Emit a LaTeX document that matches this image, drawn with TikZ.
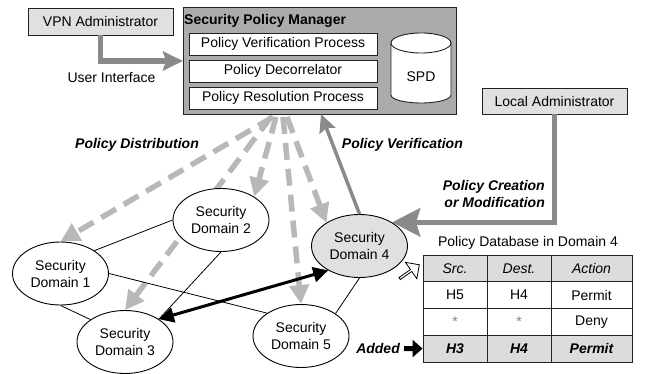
\documentclass[tikz,border=0pt]{standalone}
\usepackage{fontspec}
\setmainfont{Liberation Sans}
\usetikzlibrary{arrows.meta,shapes.geometric,shapes.arrows,backgrounds}
\definecolor{boxgray}{HTML}{E0E0E0}
\definecolor{spmgray}{HTML}{ABABAB}
\definecolor{arrgray}{HTML}{8A8A8A}
\definecolor{distgray}{HTML}{B8B8B8}
\definecolor{cellgray}{HTML}{DCDCDC}
\definecolor{edgeblack}{HTML}{222222}
\begin{document}
\begin{tikzpicture}[x=1pt,y=-1pt,
  font=\fontsize{14}{17}\selectfont,
  adminbox/.style={draw=edgeblack,fill=boxgray,line width=0.9pt,inner sep=0pt,minimum width=145pt,minimum height=27pt},
  procbox/.style={draw=edgeblack,fill=white,line width=0.8pt,inner sep=0pt,minimum width=188pt,minimum height=22pt},
  sdomain/.style={ellipse,draw=black,line width=0.9pt,fill=white,inner sep=0pt,minimum width=96pt,minimum height=63pt,align=center},
  linkline/.style={draw=black,line width=0.8pt},
  distarrow/.style={draw=distgray,line width=5.5pt,dash pattern=on 17pt off 9pt,-{Triangle[length=19pt,width=19pt]}},
  uiarrow/.style={draw=arrgray,line width=5.5pt,-{Stealth[length=20pt,width=19pt,inset=3pt]}},
  bigarrow/.style={draw=arrgray,line width=5.5pt,-{Stealth[length=28pt,width=28pt,inset=4pt]}},
  verarrow/.style={draw=arrgray,line width=3.5pt,-{Stealth[length=18pt,width=17pt,inset=3pt]}},
  lbl/.style={font=\fontsize{14}{17}\selectfont\bfseries\itshape,inner sep=0pt},
  cell/.style={draw=edgeblack,line width=0.9pt,inner sep=0pt,minimum height=26.75pt},
  hcell/.style={cell,fill=cellgray,font=\fontsize{14}{17}\selectfont\itshape},
  acell/.style={cell,fill=cellgray,font=\fontsize{14}{17}\selectfont\bfseries\itshape},
  wcell/.style={cell,fill=white}]
\useasboundingbox (0,0) rectangle (645,374);

% VPN administrator
\node[adminbox] (vpn) at (100.5,21.5) {VPN Administrator};

% Security Policy Manager
\node[draw=edgeblack,fill=spmgray,line width=1pt,minimum width=273pt,minimum height=107pt,inner sep=0pt,anchor=north west] (spm) at (183,7) {};
\node[font=\fontsize{14}{17}\selectfont\bfseries,anchor=west,inner sep=0pt] (spmtitle) at (184,21) {Security Policy Manager};
\node[procbox] (pvp) at (283,44) {Policy Verification Process};
\node[procbox] (pdc) at (283,71) {Policy Decorrelator};
\node[procbox] (prp) at (283,98) {Policy Resolution Process};
% SPD cylinder
\draw[draw=edgeblack,fill=white,line width=0.9pt] (391,43) -- (391,95) arc[start angle=180,end angle=360,x radius=30pt,y radius=8pt] -- (451,43) arc[start angle=0,end angle=180,x radius=30pt,y radius=10pt] -- cycle;
\draw[draw=edgeblack,line width=0.9pt] (391,43) arc[start angle=180,end angle=360,x radius=30pt,y radius=10pt];
\node (spd) at (421,77) {SPD};

% User interface arrow
\draw[uiarrow] (vpn.south) |- (spm.west);
\node (ui) at (111.5,78) {User Interface};

% Local administrator
\node[adminbox,minimum height=26pt] (ladmin) at (554.5,101) {Local Administrator};

% Domains
\node[sdomain] (sd1) at (60.5,273.5) {Security\\Domain 1};
\node[sdomain] (sd2) at (221,220) {Security\\Domain 2};
\node[sdomain] (sd3) at (125,342) {Security\\Domain 3};
\node[sdomain,fill=boxgray] (sd4) at (359.5,246) {Security\\Domain 4};
\node[sdomain] (sd5) at (301,336) {Security\\Domain 5};

% Policy distribution (dashed), behind the domains
\coordinate (ds1) at (273,117);
\coordinate (ds2) at (271,117);
\coordinate (ds3) at (276,117);
\coordinate (ds4) at (283,117);
\coordinate (ds5) at (287,117);
\begin{pgfonlayer}{background}
\draw[distarrow] (ds1) -- (sd1.north);
\draw[distarrow] (ds2) -- (sd3.north);
\draw[distarrow] (ds3) -- (sd2.35);
\draw[distarrow] (ds4) -- (sd5.north);
\draw[distarrow] (ds5) -- (sd4.145);
\end{pgfonlayer}
\node[lbl] (pdist) at (137,145) {Policy Distribution};

% links
\draw[linkline] (sd1.34) -- (sd2.west);
\draw[linkline] (sd1.south) -- (sd3.147);
\draw[linkline] (sd1.east) -- (sd5.146);
\draw[linkline] (sd2.south) -- (sd3.34);
\draw[linkline] (sd4.south) -- (sd5.33);

% Policy verification
\coordinate (verend) at (321,114);
\draw[verarrow] (sd4.north) -- (verend);
\node[lbl,anchor=east] (pver) at (463,145) {Policy Verification};

% Policy creation
\draw[bigarrow] (ladmin.south) |- (sd4.36);
\node[lbl,anchor=east,align=right] (pcre) at (545,193.5) {Policy Creation\\or Modification};

% Domain 3 <-> Domain 4
\draw[draw=black,line width=3pt,{Triangle[length=15pt,width=15pt]}-{Triangle[length=15pt,width=15pt]}] (sd3.34) -- (sd4.218);

% Table
\node (ttitle) at (528,243) {Policy Database in Domain 4};
\node[hcell,minimum width=64pt] (c11) at (455,268.4) {Src.};
\node[hcell,minimum width=64pt] (c12) at (519,268.4) {Dest.};
\node[hcell,minimum width=81pt] (c13) at (591.5,268.4) {Action};
\node[wcell,minimum width=64pt] (c21) at (455,295.1) {H5};
\node[wcell,minimum width=64pt] (c22) at (519,295.1) {H4};
\node[wcell,minimum width=81pt] (c23) at (591.5,295.1) {Permit};
\node[wcell,minimum width=64pt,text=gray] (c31) at (455,321.9) {*};
\node[wcell,minimum width=64pt,text=gray] (c32) at (519,321.9) {*};
\node[wcell,minimum width=81pt] (c33) at (591.5,321.9) {Deny};
\node[acell,minimum width=64pt] (c41) at (455,348.6) {H3};
\node[acell,minimum width=64pt] (c42) at (519,348.6) {H4};
\node[acell,minimum width=81pt] (c43) at (591.5,348.6) {Permit};

% hollow arrow
\node[single arrow,draw=black,fill=white,line width=0.8pt,minimum height=24pt,minimum width=20pt,single arrow head extend=3pt,inner sep=0pt,rotate=35] (hollow) at (409,272) {};

% Added
\node[lbl,anchor=east] (added) at (400,348.5) {Added};
\draw[draw=black,line width=5pt,shorten <=4pt,-{Triangle[length=10pt,width=17pt]}] (added.east) -- (c41.west);
\end{tikzpicture}
\end{document}
